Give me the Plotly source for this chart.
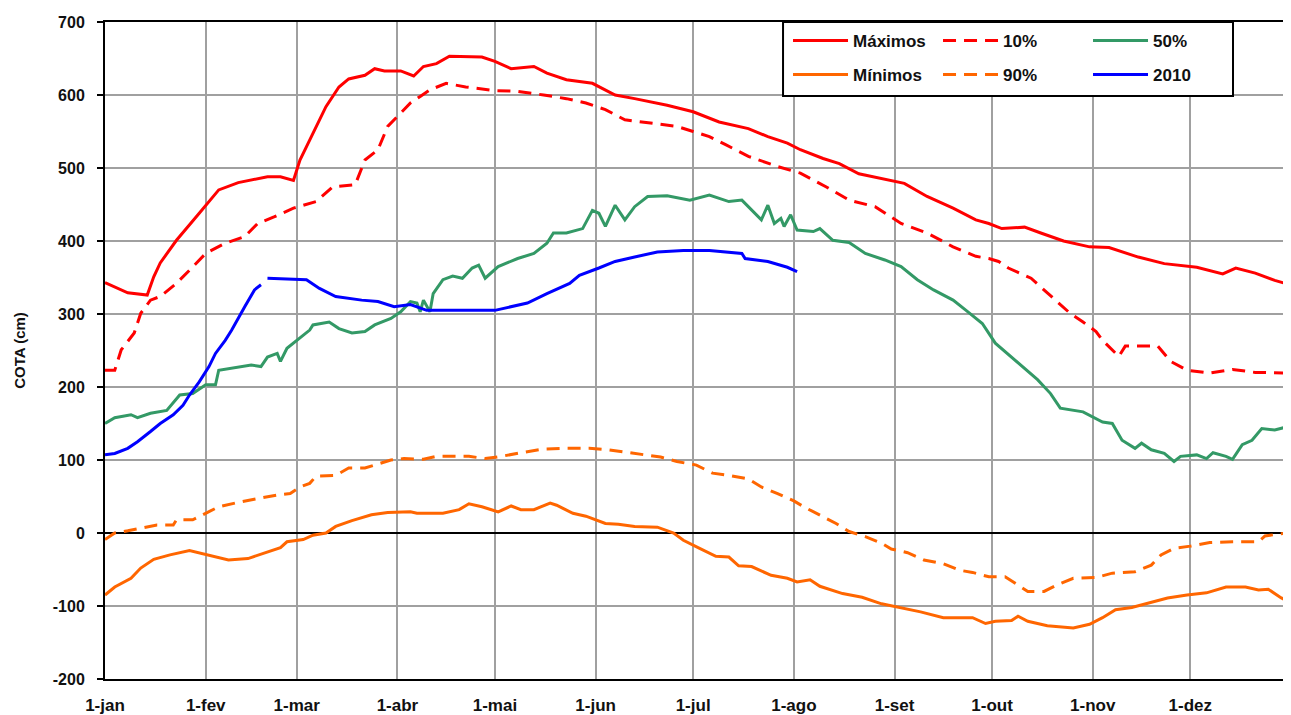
import datetime as dt
import plotly.graph_objects as go

# ---------------- data (day offset from 1-jan, value in cm) ----------------
max_days = [0, 7, 13, 15, 17, 22, 29, 35, 41, 50, 54, 58, 60, 63, 68, 72, 75, 80, 83, 86, 91, 95, 98, 102, 106,
            116, 120, 125, 132, 136, 142, 150, 157, 163, 173, 181, 186, 189, 198, 204, 210, 214, 221, 226, 232,
            240, 246, 253, 261, 268, 272, 276, 283, 288, 295, 303, 309, 318, 326, 336, 344, 348, 354, 360, 364, 365]
max_vals = [343, 329, 326, 351, 370, 401, 438, 470, 480, 488, 488, 483, 511, 538, 584, 611, 622, 627, 636, 633, 633,
            626, 639, 643, 653, 652, 646, 636, 639, 630, 621, 616, 600, 595, 586, 577, 568, 563, 554, 543, 534, 525,
            513, 506, 492, 484, 479, 461, 445, 429, 424, 417, 419, 411, 400, 392, 391, 378, 369, 364, 355, 363, 356,
            346, 341, 344]

p10_days = [0, 3, 5, 9, 11, 14, 17, 22, 26, 31, 37, 43, 47, 52, 58, 65, 70, 77, 80, 84, 87, 91, 94, 97, 100, 105,
            111, 120, 127, 135, 142, 148, 154, 160, 168, 176, 181, 186, 191, 198, 207, 214, 222, 229, 237, 245, 253,
            261, 268, 272, 275, 278, 285, 289, 293, 297, 301, 305, 307, 312, 314, 324, 328, 333, 340, 347, 354, 365]
p10_vals = [223, 223, 251, 274, 301, 319, 324, 342, 360, 383, 397, 406, 424, 433, 445, 454, 474, 477, 511, 525, 557,
            575, 589, 598, 607, 616, 611, 606, 605, 600, 595, 589, 580, 566, 561, 557, 550, 543, 532, 516, 502, 493,
            474, 456, 447, 424, 411, 392, 379, 376, 372, 363, 349, 333, 317, 301, 289, 276, 264, 242, 256, 256, 235,
            223, 219, 224, 220, 219]

p50_days = [0, 3, 8, 10, 14, 19, 23, 27, 31, 34, 35, 42, 45, 48, 50, 53, 54, 56, 60, 63, 64, 69, 72, 76, 80, 83, 88,
            91, 94, 96, 97, 98, 100, 101, 104, 107, 110, 113, 115, 117, 121, 127, 132, 136, 138, 142, 147, 150, 152,
            154, 157, 160, 163, 167, 173, 180, 186, 192, 196, 200, 202, 204, 206, 208, 209, 211, 213, 218, 220, 224,
            229, 234, 240, 245, 250, 255, 261, 265, 270, 274, 280, 284, 287, 291, 294, 301, 307, 310, 313, 317, 319,
            322, 326, 329, 331, 336, 339, 341, 345, 347, 350, 353, 356, 360, 365]
p50_vals = [150, 158, 162, 158, 164, 168, 189, 191, 203, 203, 223, 228, 230, 228, 241, 246, 235, 253, 267, 278, 285,
            289, 280, 274, 276, 285, 294, 303, 317, 315, 303, 319, 303, 328, 347, 352, 349, 363, 367, 349, 365, 376,
            383, 397, 411, 411, 417, 442, 438, 420, 449, 429, 447, 461, 462, 456, 463, 454, 456, 438, 429, 449, 424,
            431, 420, 436, 415, 413, 417, 401, 398, 383, 374, 365, 347, 333, 319, 305, 287, 260, 237, 221, 210, 191,
            171, 166, 152, 150, 127, 116, 123, 114, 109, 98, 105, 107, 102, 110, 105, 101, 121, 127, 143, 141, 147]

y2010_days = [0, 3, 7, 10, 14, 17, 21, 24, 26, 29, 32, 34, 37, 39, 43, 46, 48, 49, 50, 59, 62, 66, 71, 79, 84, 89,
              94, 99, 120, 130, 136, 143, 146, 152, 157, 163, 170, 178, 186, 196, 197, 204, 210, 213]
y2010_vals = [107, 109, 116, 125, 139, 150, 162, 175, 189, 207, 228, 246, 264, 278, 310, 333, 340, None, 349, 347,
              347, 335, 324, 319, 317, 310, 313, 305, 305, 315, 328, 342, 353, 363, 372, 378, 385, 387, 387, 383,
              376, 372, 364, 358]

min_days = [0, 3, 8, 11, 15, 20, 26, 30, 34, 38, 44, 49, 54, 56, 61, 64, 68, 71, 76, 82, 87, 94, 96, 104, 109, 112,
            116, 121, 125, 128, 132, 137, 139, 144, 148, 154, 158, 163, 170, 175, 178, 183, 188, 192, 195, 199, 205,
            210, 213, 217, 220, 227, 233, 239, 245, 251, 258, 267, 271, 274, 279, 281, 284, 290, 298, 303, 307, 311,
            316, 322, 327, 333, 339, 345, 351, 355, 358, 362, 365]
min_vals = [-85, -74, -62, -48, -36, -30, -24, -28, -32, -37, -35, -28, -20, -12, -9, -3, 0, 9, 17, 25, 28, 29, 27,
            27, 32, 40, 36, 29, 37, 32, 32, 41, 38, 27, 23, 13, 12, 9, 8, 0, -10, -21, -32, -33, -45, -46, -58, -62,
            -67, -64, -73, -83, -88, -97, -102, -108, -116, -116, -124, -121, -120, -114, -121, -127, -130, -125,
            -116, -105, -102, -95, -89, -85, -82, -74, -74, -78, -77, -89, -95]

p90_days = [0, 3, 7, 11, 16, 21, 22, 27, 30, 35, 40, 44, 48, 53, 57, 60, 63, 65, 71, 75, 80, 83, 88, 92, 98, 102,
            108, 112, 117, 122, 128, 135, 142, 149, 155, 161, 165, 171, 176, 182, 187, 192, 198, 202, 207, 212, 215,
            220, 225, 229, 234, 239, 242, 247, 252, 258, 263, 267, 272, 277, 281, 284, 289, 293, 298, 305, 310, 317,
            322, 325, 329, 334, 340, 347, 355, 357, 362, 365]
p90_vals = [-9, 0, 3, 7, 11, 11, 18, 18, 25, 36, 41, 44, 48, 52, 54, 63, 68, 78, 79, 89, 89, 93, 100, 102, 101, 105,
            105, 105, 102, 105, 110, 115, 116, 116, 114, 110, 107, 104, 98, 93, 82, 79, 74, 63, 54, 44, 36, 25, 13,
            2, -5, -14, -22, -27, -37, -42, -51, -54, -60, -60, -71, -80, -80, -71, -62, -61, -55, -53, -44, -30,
            -21, -18, -13, -12, -12, -4, -1, 0]

month_labels = ["1-jan", "1-fev", "1-mar", "1-abr", "1-mai", "1-jun",
                "1-jul", "1-ago", "1-set", "1-out", "1-nov", "1-dez"]
y_ticks = [-200, -100, 0, 100, 200, 300, 400, 500, 600, 700]
y_tick_labels = ["-200", "-100", "0", "100", "200", "300", "400", "500", "600", "700"]

BASE = dt.date(2010, 1, 1)


def to_dates(days):
    return [BASE + dt.timedelta(days=d) for d in days]


month_ticks = [dt.date(2010, m, 1) for m in range(1, 13)]

RED = "#FF0000"
ORANGE = "#FF6600"
GREEN = "#339966"
BLUE = "#0000FF"
DASH = "13px,8px"
LW = 3
FONT = "Liberation Sans"
TXT = "#111111"

fig = go.Figure()
fig.add_trace(go.Scatter(x=to_dates(max_days), y=max_vals, name="Máximos", mode="lines",
                         legend="legend", line=dict(color=RED, width=LW)))
fig.add_trace(go.Scatter(x=to_dates(p10_days), y=p10_vals, name="10%", mode="lines",
                         legend="legend", line=dict(color=RED, width=LW, dash=DASH)))
fig.add_trace(go.Scatter(x=to_dates(p50_days), y=p50_vals, name="50%", mode="lines",
                         legend="legend", line=dict(color=GREEN, width=LW)))
fig.add_trace(go.Scatter(x=to_dates(min_days), y=min_vals, name="Mínimos", mode="lines",
                         legend="legend2", line=dict(color=ORANGE, width=LW)))
fig.add_trace(go.Scatter(x=to_dates(p90_days), y=p90_vals, name="90%", mode="lines",
                         legend="legend2", line=dict(color=ORANGE, width=LW, dash=DASH)))
fig.add_trace(go.Scatter(x=to_dates(y2010_days), y=y2010_vals, name="2010", mode="lines",
                         legend="legend2", connectgaps=False, line=dict(color=BLUE, width=LW)))

legend_common = dict(
    orientation="h", xanchor="left", yanchor="middle",
    bgcolor="rgba(0,0,0,0)", borderwidth=0,
    itemwidth=55, entrywidth=80, entrywidthmode="pixels",
    traceorder="normal",
    font=dict(family=FONT, size=17, color=TXT, weight="bold"),
)

# the page body adds an 8px offset, so the figure is 8px smaller than the window
fig.update_layout(
    width=1283, height=707, autosize=False,
    margin=dict(l=97, r=0, t=14, b=36),
    paper_bgcolor="white", plot_bgcolor="white",
    font=dict(family=FONT, size=16, color=TXT, weight="bold"),
    showlegend=True,
    legend=dict(x=0.5759, y=0.9711, **legend_common),
    legend2=dict(x=0.5759, y=0.9193, **legend_common),
    shapes=[dict(type="rect", xref="paper", yref="paper",
                 x0=0.5717, x1=0.9511, y0=0.8874, y1=1.0,
                 fillcolor="white", line=dict(color="black", width=2), layer="above")],
    xaxis=dict(
        type="date", automargin=False,
        range=[BASE, BASE + dt.timedelta(days=365)],
        tickmode="array", tickvals=month_ticks, ticktext=month_labels,
        showgrid=True, gridcolor="#A0A0A0", gridwidth=1.5,
        showline=True, linecolor="black", linewidth=2, mirror=True,
        ticks="", zeroline=False, ticklabelstandoff=10,
        tickfont=dict(family=FONT, size=17, color=TXT, weight="bold"),
    ),
    yaxis=dict(
        automargin=False,
        range=[-200, 700], tickmode="array", tickvals=y_ticks, ticktext=y_tick_labels,
        showgrid=True, gridcolor="#A0A0A0", gridwidth=1.5,
        zeroline=True, zerolinecolor="black", zerolinewidth=2,
        showline=True, linecolor="black", linewidth=2,
        ticks="outside", ticklen=6, tickcolor="black", tickwidth=1.5,
        ticklabelstandoff=9,
        tickfont=dict(family=FONT, size=16, color=TXT, weight="bold"),
        title=dict(text="COTA (cm)", standoff=24,
                   font=dict(family=FONT, size=15, color=TXT, weight="bold")),
    ),
)

fig.write_html("out.html")
